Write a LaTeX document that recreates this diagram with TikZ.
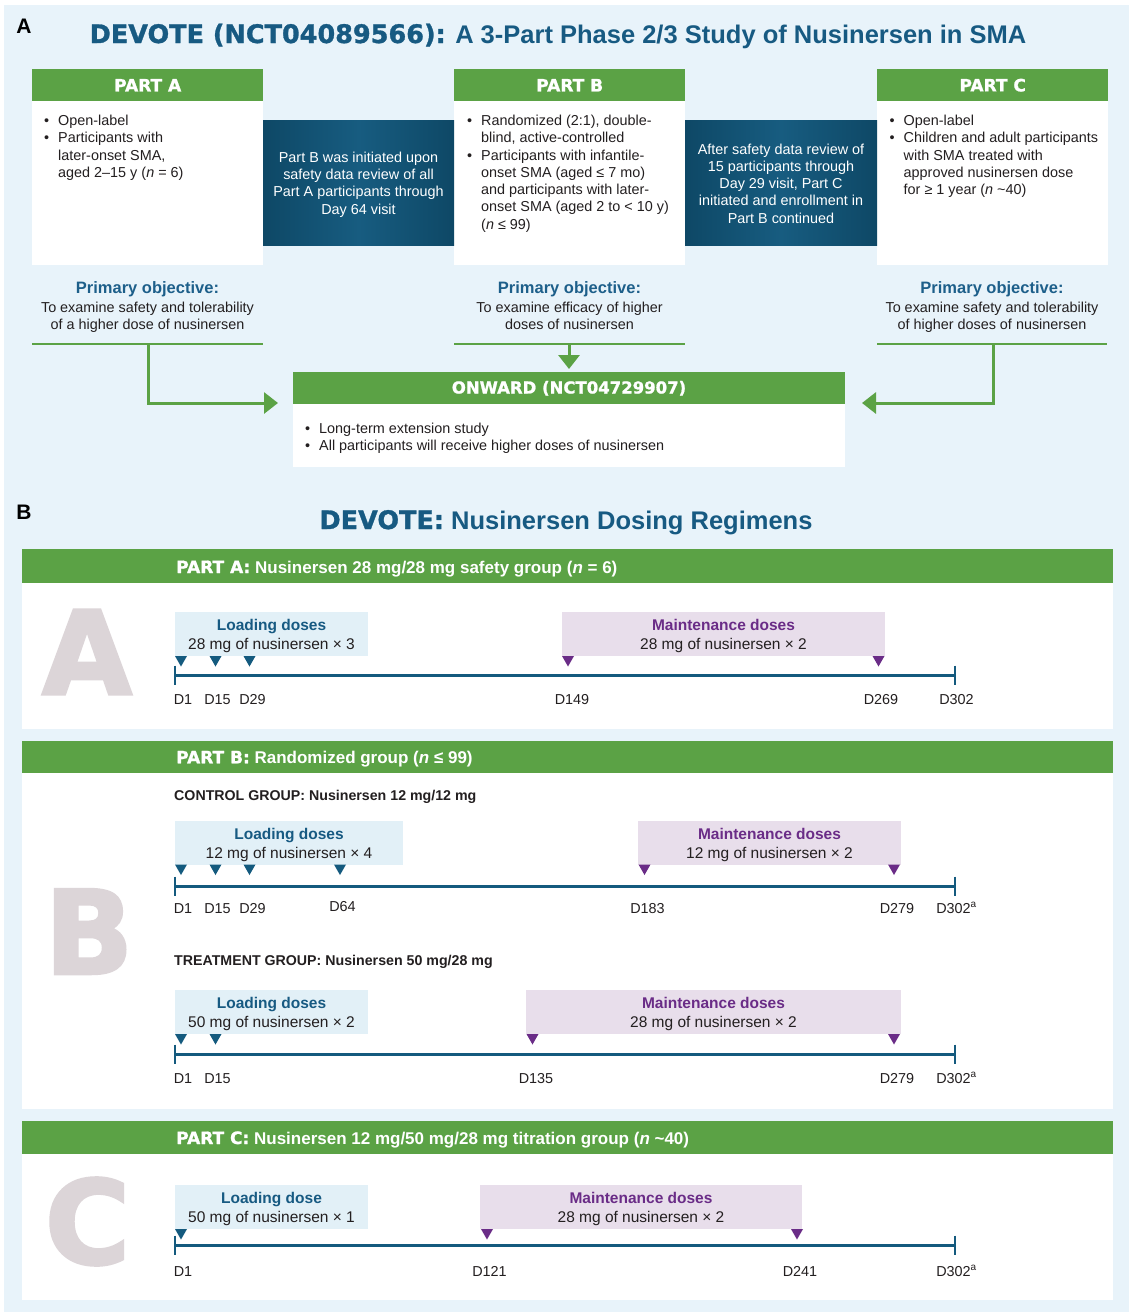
\documentclass[tikz,border=0pt]{standalone}
\usepackage{fontspec}
\setmainfont{Liberation Sans}
\newfontfamily\heavy[FakeBold=1.2]{DejaVu Sans}
\newfontfamily\heavybig[FakeBold=2.5]{DejaVu Sans}
\usetikzlibrary{arrows.meta}
\definecolor{bgblue}{HTML}{E8F3FA}
\definecolor{grn}{HTML}{5BA245}
\definecolor{tblue}{HTML}{175A82}
\definecolor{oblue}{HTML}{1D5F8A}
\definecolor{dk1}{HTML}{175C80}
\definecolor{dk2}{HTML}{0E4866}
\definecolor{lbfill}{HTML}{E2F0F7}
\definecolor{mbfill}{HTML}{E8DEEB}
\definecolor{purp}{HTML}{6A2C87}
\definecolor{tline}{HTML}{145A7E}
\definecolor{bigl}{HTML}{DCD5D8}
\definecolor{txt}{HTML}{231F20}
\newcommand{\fs}[2]{\fontsize{#1}{#2}\selectfont}
\newcommand{\bu}{\makebox[14pt][l]{\textbullet}}
\newcommand{\nb}{\hspace*{14pt}}
\newcommand{\blist}[1]{\begin{tabular}{@{}l@{}l@{}}#1\end{tabular}}
\newcommand{\mytri}[3]{\fill[#3] (#1-6,#2) -- (#1+6,#2) -- (#1,#2+10.5) -- cycle;}
\newcommand{\mytl}[2]{%
  \coordinate (#1s) at (175,#2); \coordinate (#1e) at (955,#2);
  \draw[tl] (#1s) -- (#1e);
  \draw[tk] ([yshift=9.5pt]#1s) -- ([yshift=-9.5pt]#1s);
  \draw[tk] ([yshift=9.5pt]#1e) -- ([yshift=-9.5pt]#1e);}
\tikzset{
  tl/.style={draw=tline, line width=3pt},
  tk/.style={draw=tline, line width=2.6pt},
  gline/.style={draw=grn, line width=2pt},
  garrow/.style={draw=grn, line width=3pt, -{Triangle[length=14pt,width=21pt]}},
  ghead/.style={fill=grn, inner sep=0, anchor=north west},
  wbody/.style={fill=white, inner sep=0, anchor=north west},
  htxt/.style={text=white, font=\heavy\bfseries\fs{17}{17}},
  darkbox/.style={left color=dk2, right color=dk2, middle color=dk1, inner sep=0},
  darktxt/.style={text=white, align=center, inner sep=0, font=\fs{14.4}{17.2}},
  bullets/.style={text=txt, font=\fs{14.4}{17.3}, inner sep=0, anchor=north west},
  otitle/.style={text=oblue, font=\bfseries\fs{16.5}{17}, inner sep=0, anchor=base},
  olin/.style={text=txt, font=\fs{14.4}{17}, inner sep=0, anchor=base},
  ttl/.style={text=tblue, font=\bfseries\fs{25.5}{26}, inner sep=0, anchor=base},
  hbtxt/.style={text=white, font=\bfseries\fs{17}{17}, inner sep=0, anchor=base west},
  grp/.style={text=txt, font=\bfseries\fs{14.2}{15}, inner sep=0, anchor=base west},
  big/.style={text=bigl, font=\heavybig\bfseries\fs{116}{116}, inner sep=0},
  lbox/.style={fill=lbfill, minimum height=44pt, inner sep=0},
  mbox/.style={fill=mbfill, minimum height=44pt, inner sep=0},
  ltitle/.style={text=tblue, font=\bfseries\fs{15.5}{16}, inner sep=0, anchor=base},
  mtitle/.style={text=purp, font=\bfseries\fs{15.5}{16}, inner sep=0, anchor=base},
  lsub/.style={text=txt, font=\fs{15.5}{16}, inner sep=0, anchor=base},
  dl/.style={text=txt, font=\fs{14.4}{16}, inner sep=0, anchor=base},
}
\begin{document}
\begin{tikzpicture}[x=1pt,y=-1pt]
\useasboundingbox (0,0) rectangle (1129,1312);
\fill[white] (0,0) rectangle (1129,1312);
\fill[bgblue] (4,5) rectangle (1129,1312);

% ---------------- Section A ----------------
\node[font=\bfseries\fs{21}{21}, inner sep=0, anchor=base] (labA) at (24,33) {A};
\node[ttl] (titleA) at (558,43) {{\heavy DEVOTE (NCT04089566):} A 3-Part Phase 2/3 Study of Nusinersen in SMA};

\node[ghead, minimum width=231pt, minimum height=32pt, htxt] (hA) at (32,69) {PART A};
\node[wbody, minimum width=231pt, minimum height=164pt] (bA) at (32,101) {};
\node[bullets] (tA) at (44,113.1) {\blist{\bu&Open-label\\ \bu&Participants with\\ \nb&later-onset SMA,\\ \nb&aged 2--15 y (\textit{n} = 6)}};

\node[ghead, minimum width=231pt, minimum height=32pt, htxt] (hB) at (454,69) {PART B};
\node[wbody, minimum width=231pt, minimum height=164pt] (bB) at (454,101) {};
\node[bullets] (tB) at (467,113.1) {\blist{\bu&Randomized (2:1), double-\\ \nb&blind, active-controlled\\ \bu&Participants with infantile-\\ \nb&onset SMA (aged ≤ 7 mo)\\ \nb&and participants with later-\\ \nb&onset SMA (aged 2 to < 10 y)\\ \nb&(\textit{n} ≤ 99)}};

\node[ghead, minimum width=231pt, minimum height=32pt, htxt] (hC) at (877,69) {PART C};
\node[wbody, minimum width=231pt, minimum height=164pt] (bC) at (877,101) {};
\node[bullets] (tC) at (889.5,113.1) {\blist{\bu&Open-label\\ \bu&Children and adult participants\\ \nb&with SMA treated with\\ \nb&approved nusinersen dose\\ \nb&for ≥ 1 year (\textit{n} \textasciitilde40)}};

\node[darkbox, minimum width=191pt, minimum height=125pt] (mid1) at (358.5,182.5) {};
\node[darktxt] (mid1t) at (358.5,184.5) {Part B was initiated upon\\safety data review of all\\Part A participants through\\Day 64 visit};
\node[darkbox, minimum width=192pt, minimum height=125pt] (mid2) at (781,182.5) {};
\node[darktxt] (mid2t) at (781,183.5) {After safety data review of\\15 participants through\\Day 29 visit, Part C\\initiated and enrollment in\\Part B continued};

\node[otitle] (oAt) at (147.5,293.9) {Primary objective:};
\node[olin] (oA1) at (147.5,312.2) {To examine safety and tolerability};
\node[olin] (oA2) at (147.5,329.2) {of a higher dose of nusinersen};
\node[otitle] (oBt) at (569.5,293.9) {Primary objective:};
\node[olin] (oB1) at (569.5,312.2) {To examine efficacy of higher};
\node[olin] (oB2) at (569.5,329.2) {doses of nusinersen};
\node[otitle] (oCt) at (992,293.9) {Primary objective:};
\node[olin] (oC1) at (992,312.2) {To examine safety and tolerability};
\node[olin] (oC2) at (992,329.2) {of higher doses of nusinersen};

\coordinate (gAl) at (32,344); \coordinate (gAr) at (263,344);
\coordinate (gBl) at (454,344); \coordinate (gBr) at (685,344);
\coordinate (gCl) at (877,344); \coordinate (gCr) at (1107,344);
\draw[gline] (gAl) -- (gAr);
\draw[gline] (gBl) -- (gBr);
\draw[gline] (gCl) -- (gCr);

\node[ghead, minimum width=552pt, minimum height=32pt] (hO) at (293,372) {};
\node[wbody, minimum width=552pt, minimum height=63pt] (bO) at (293,404) {};
\node[htxt, inner sep=0, anchor=base, font=\heavy\bfseries\fs{16.5}{17}] (hOt) at (569,393.5) {ONWARD (NCT04729907)};
\node[bullets] (tO) at (305,421.1) {\blist{\bu&Long-term extension study\\ \bu&All participants will receive higher doses of nusinersen}};

\coordinate (aA) at (148,344); \coordinate (aAt) at (278,403);
\coordinate (aB) at (569,344); \coordinate (aBt) at (569,369);
\coordinate (aC) at (993,344); \coordinate (aCt) at (862,403);
\draw[garrow] (aA) |- (aAt);
\draw[garrow] (aB) -- (aBt);
\draw[garrow] (aC) |- (aCt);

% ---------------- Section B ----------------
\node[font=\bfseries\fs{21}{21}, inner sep=0, anchor=base] (labB) at (24,519) {B};
\node[ttl] (titleB) at (566,529) {{\heavy DEVOTE:} Nusinersen Dosing Regimens};

% Part A panel
\node[ghead, minimum width=1091pt, minimum height=34pt] (pA) at (22,549) {};
\node[wbody, minimum width=1091pt, minimum height=146pt] (pAb) at (22,583) {};
\node[hbtxt] (pAt) at (176,573) {{\heavy PART A:} Nusinersen 28 mg/28 mg safety group (\textit{n} = 6)};
\node[big] (bigA) at (87,652) {A};
\mytl{tlA}{675}
\node[lbox, minimum width=193pt] (lbA) at (271.5,634) {};
\node[ltitle] (lbAt) at (271.5,630.6) {Loading doses};
\node[lsub] (lbAs) at (271.5,649.6) {28 mg of nusinersen × 3};
\node[mbox, minimum width=323pt] (mbA) at (723.5,634) {};
\node[mtitle] (mbAt) at (723.5,630.6) {Maintenance doses};
\node[lsub] (mbAs) at (723.5,649.6) {28 mg of nusinersen × 2};
\mytri{181}{656}{tline}\mytri{215.5}{656}{tline}\mytri{249.5}{656}{tline}
\mytri{568}{656}{purp}\mytri{878.5}{656}{purp}
\node[dl] (dA1) at (183,704.2) {D1};
\node[dl] (dA2) at (217.5,704.2) {D15};
\node[dl] (dA3) at (252.5,704.2) {D29};
\node[dl] (dA4) at (572,704.2) {D149};
\node[dl] (dA5) at (881,704.2) {D269};
\node[dl] (dA6) at (956.5,704.2) {D302};

% Part B panel
\node[ghead, minimum width=1091pt, minimum height=32pt] (pB) at (22,741) {};
\node[wbody, minimum width=1091pt, minimum height=336pt] (pBb) at (22,773) {};
\node[hbtxt] (pBt) at (176,763.3) {{\heavy PART B:} Randomized group (\textit{n} ≤ 99)};
\node[big] (bigB) at (89,931.5) {B};
\node[grp] (ctrl) at (174,800) {CONTROL GROUP: Nusinersen 12 mg/12 mg};
\mytl{tlB}{886}
\node[lbox, minimum width=228pt] (lbB) at (289,842.5) {};
\node[ltitle] (lbBt) at (289,839.6) {Loading doses};
\node[lsub] (lbBs) at (289,858.6) {12 mg of nusinersen × 4};
\node[mbox, minimum width=263pt] (mbB) at (769.5,842.5) {};
\node[mtitle] (mbBt) at (769.5,839.6) {Maintenance doses};
\node[lsub] (mbBs) at (769.5,858.6) {12 mg of nusinersen × 2};
\mytri{181}{864.5}{tline}\mytri{215.5}{864.5}{tline}\mytri{249.5}{864.5}{tline}\mytri{340}{864.5}{tline}
\mytri{644.5}{864.5}{purp}\mytri{894}{864.5}{purp}
\node[dl] (dB1) at (183,913.2) {D1};
\node[dl] (dB2) at (217.5,913.2) {D15};
\node[dl] (dB3) at (252.5,913.2) {D29};
\node[dl] (dB4) at (342.5,911.2) {D64};
\node[dl] (dB5) at (647.5,913.2) {D183};
\node[dl] (dB6) at (897,913.2) {D279};
\node[dl] (dB7) at (956.5,913.2) {D302\textsuperscript{a}};

\node[grp] (trt) at (174,965) {TREATMENT GROUP: Nusinersen 50 mg/28 mg};
\mytl{tlT}{1054}
\node[lbox, minimum width=193pt] (lbT) at (271.5,1012) {};
\node[ltitle] (lbTt) at (271.5,1008.6) {Loading doses};
\node[lsub] (lbTs) at (271.5,1027.6) {50 mg of nusinersen × 2};
\node[mbox, minimum width=375pt] (mbT) at (713.5,1012) {};
\node[mtitle] (mbTt) at (713.5,1008.6) {Maintenance doses};
\node[lsub] (mbTs) at (713.5,1027.6) {28 mg of nusinersen × 2};
\mytri{181}{1034}{tline}\mytri{215.5}{1034}{tline}
\mytri{532.5}{1034}{purp}\mytri{894}{1034}{purp}
\node[dl] (dT1) at (183,1083.2) {D1};
\node[dl] (dT2) at (217.5,1083.2) {D15};
\node[dl] (dT3) at (536,1083.2) {D135};
\node[dl] (dT4) at (897,1083.2) {D279};
\node[dl] (dT5) at (956.5,1083.2) {D302\textsuperscript{a}};

% Part C panel
\node[ghead, minimum width=1091pt, minimum height=33pt] (pC) at (22,1121) {};
\node[wbody, minimum width=1091pt, minimum height=146pt] (pCb) at (22,1154) {};
\node[hbtxt] (pCt) at (176,1144) {{\heavy PART C:} Nusinersen 12 mg/50 mg/28 mg titration group (\textit{n} \textasciitilde40)};
\node[big] (bigC) at (87.5,1221.5) {C};
\mytl{tlC}{1245}
\node[lbox, minimum width=193pt] (lbC) at (271.5,1207) {};
\node[ltitle] (lbCt) at (271.5,1203.6) {Loading dose};
\node[lsub] (lbCs) at (271.5,1222.6) {50 mg of nusinersen × 1};
\node[mbox, minimum width=322pt] (mbC) at (641,1207) {};
\node[mtitle] (mbCt) at (641,1203.6) {Maintenance doses};
\node[lsub] (mbCs) at (641,1222.6) {28 mg of nusinersen × 2};
\mytri{181}{1229}{tline}
\mytri{487}{1229}{purp}\mytri{797}{1229}{purp}
\node[dl] (dC1) at (183,1276.2) {D1};
\node[dl] (dC2) at (489.5,1276.2) {D121};
\node[dl] (dC3) at (800,1276.2) {D241};
\node[dl] (dC4) at (956.5,1276.2) {D302\textsuperscript{a}};
\end{tikzpicture}
\end{document}
